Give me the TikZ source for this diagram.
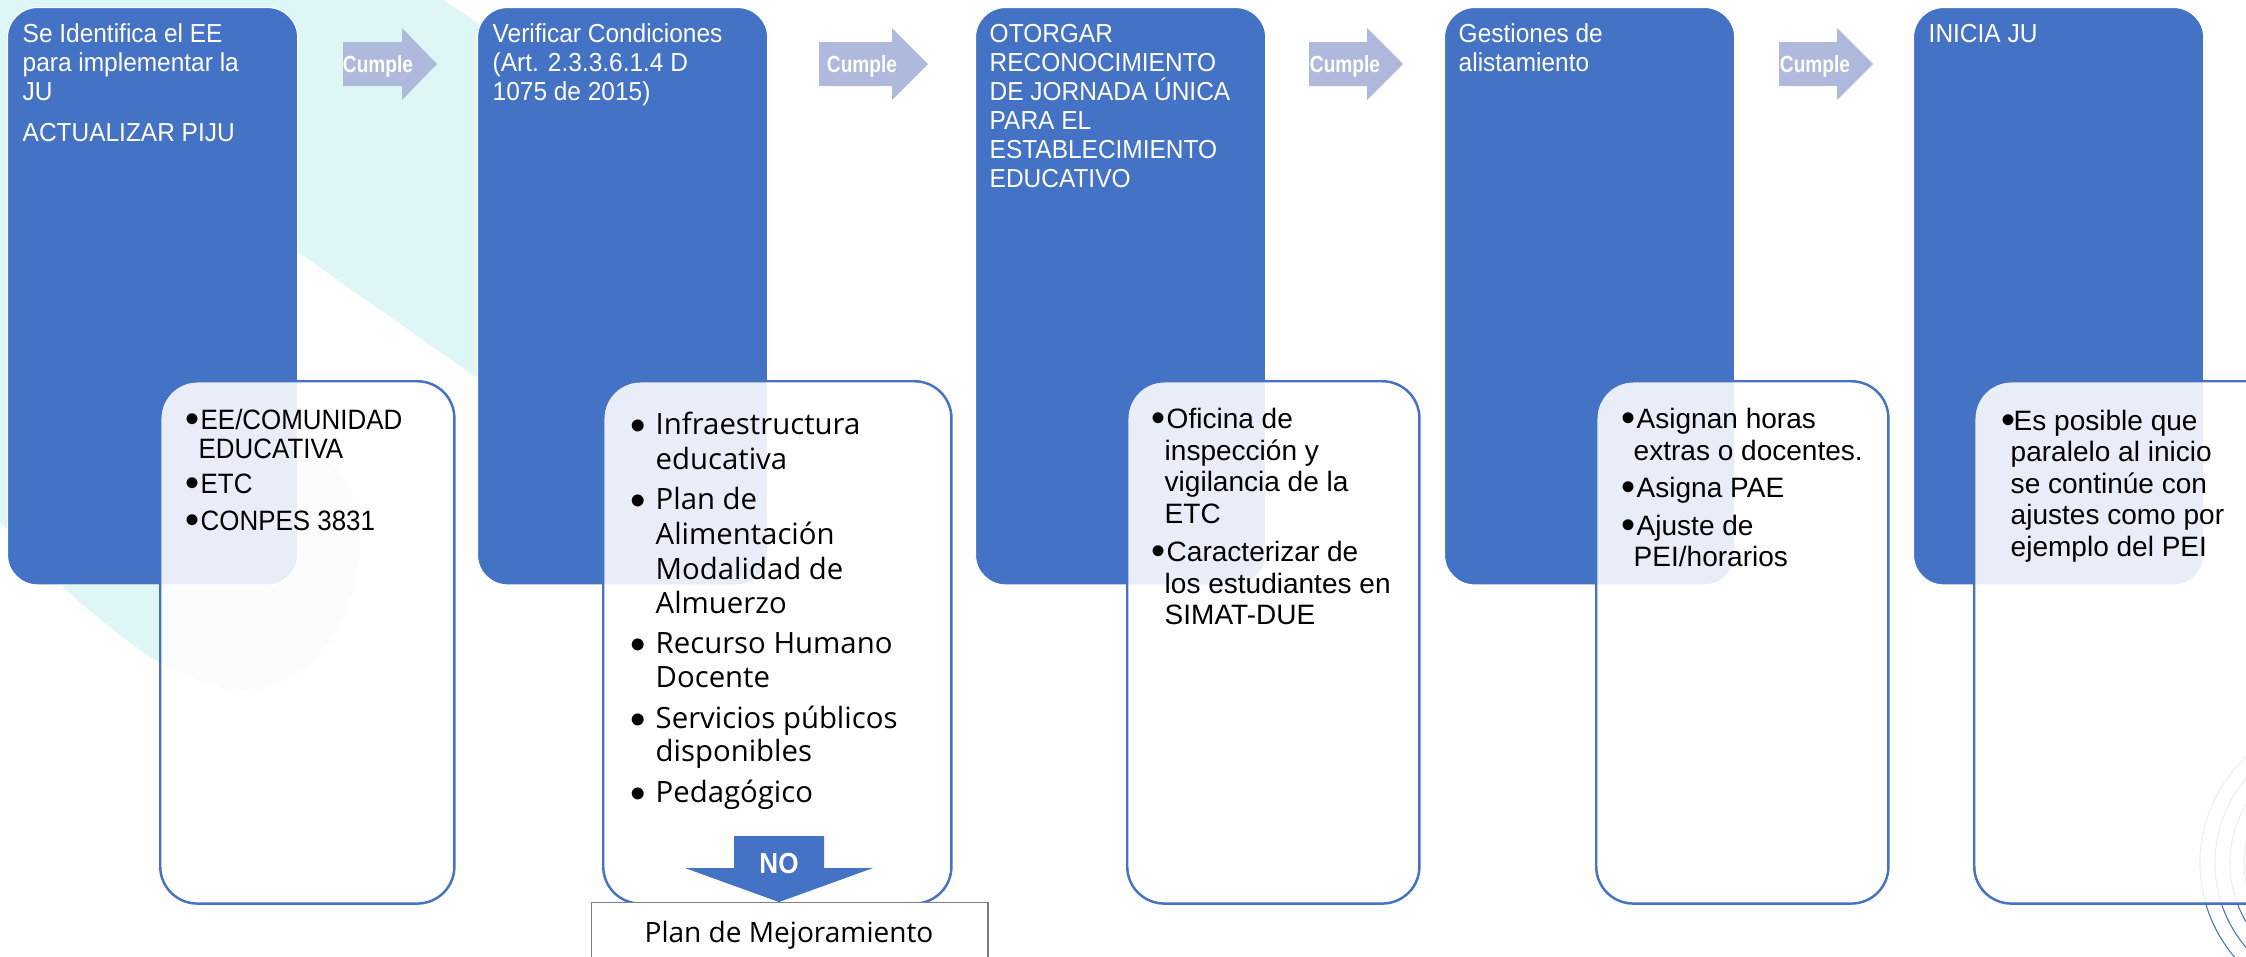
\documentclass[tikz,border=0pt]{standalone}
\usepackage{fontspec}
\setmainfont{Liberation Sans}
\newfontfamily\titlefont[FakeStretch=0.94]{Liberation Sans}
\newfontfamily\condfont[FakeStretch=0.925]{Liberation Sans}
\newfontfamily\cumplefont[FakeStretch=0.82]{Liberation Sans}
\newfontfamily\nofont[FakeStretch=0.9]{Liberation Sans}
\newfontfamily\osans{Open Sans}
\definecolor{jublue}{HTML}{4472C4}
\definecolor{arrowlight}{HTML}{AEB9DC}
\definecolor{cyanbg}{HTML}{DFF6F6}
\definecolor{plangray}{HTML}{7F7F7F}
\begin{document}
\begin{tikzpicture}[x=0.01cm,y=-0.01cm,
  bluebox/.style={fill=jublue, draw=white, line width=0.3pt, rounded corners=0.3cm, anchor=north west, minimum width=2.9cm, minimum height=5.77cm, inner sep=0pt},
  whitebox/.style={fill=white, fill opacity=0.88, draw=jublue, draw opacity=1, line width=0.7pt, rounded corners=0.37cm, anchor=north west, minimum height=5.22cm, inner sep=0pt},
  ttl/.style={anchor=base west, inner sep=0pt, text=white, font=\titlefont\fontsize{7.4}{8.5}\selectfont},
  lsta/.style={anchor=base west, inner sep=0pt, text=black, font=\condfont\fontsize{7.97}{9}\selectfont},
  lstb/.style={anchor=base west, inner sep=0pt, text=black, font=\osans\fontsize{8.34}{9.8}\selectfont},
  lstc/.style={anchor=base west, inner sep=0pt, text=black, font=\fontsize{7.97}{9}\selectfont},
  bul/.style={anchor=base west, inner sep=0pt, text=black, font=\fontsize{11.4}{12}\selectfont},
  bulb/.style={anchor=base west, inner sep=0pt, text=black, font=\fontsize{12.5}{13}\selectfont},
  cumple/.style={anchor=base, inner sep=0pt, text=white, font=\cumplefont\bfseries\fontsize{6.63}{7}\selectfont},
  cumplearrow/.style={fill=arrowlight},
  planbox/.style={draw=plangray, fill=white, line width=0.4pt, anchor=north west, minimum width=3.96cm, minimum height=0.8cm, inner sep=0pt}
]
\useasboundingbox (0,0) rectangle (2246,956);
\clip (0,0) rectangle (2246,956);
\fill[white] (0,0) rectangle (2246,956);

% background decoration
\fill[cyanbg] (0,0) -- (443,0) -- (500,38) -- (500,394) -- (298,252) -- (298,430)
  .. controls (345,465) and (365,505) .. (360,550)
  .. controls (352,640) and (300,690) .. (245,690)
  .. controls (180,690) and (110,630) .. (61,585) -- (0,522) -- cycle;
\foreach \r in {1.45,1.30,1.15,1.01}
  \draw[jublue, line width=0.3pt] (2345,863) circle[radius=\r cm];

% blue step boxes
\node[bluebox] (b1) at (7,7) {};
\node[bluebox] (b2) at (477,7) {};
\node[bluebox] (b3) at (975,7) {};
\node[bluebox] (b4) at (1444,7) {};
\node[bluebox] (b5) at (1913,7) {};

% detail boxes
\node[whitebox, minimum width=2.94cm] (w1) at (159,380) {};
\node[whitebox, minimum width=3.48cm] (w2) at (602,380) {};
\node[whitebox, minimum width=2.92cm] (w3) at (1126,380) {};
\node[whitebox, minimum width=2.92cm] (w4) at (1595,380) {};
\node[whitebox, minimum width=3.3cm] (w5) at (1973,380) {};

% Cumple arrows
\fill[cumplearrow] (343,42) -- (402,42) -- (402,28) -- (437,64) -- (402,100) -- (402,86) -- (343,86) -- cycle;
\fill[cumplearrow] (819,42) -- (892,42) -- (892,28) -- (928,64) -- (892,100) -- (892,86) -- (819,86) -- cycle;
\fill[cumplearrow] (1309,42) -- (1367,42) -- (1367,28) -- (1403,64) -- (1367,100) -- (1367,86) -- (1309,86) -- cycle;
\fill[cumplearrow] (1779,42) -- (1837,42) -- (1837,28) -- (1873,64) -- (1837,100) -- (1837,86) -- (1779,86) -- cycle;
\node[cumple] (c1) at (378,72) {Cumple};
\node[cumple] (c2) at (862,72) {Cumple};
\node[cumple] (c3) at (1345,72) {Cumple};
\node[cumple] (c4) at (1815,72) {Cumple};

% titles
\node[ttl] (t1a) at (22,42) {Se Identifica el EE};
\node[ttl] (t1b) at (22,71) {para implementar la};
\node[ttl] (t1c) at (22,100) {JU};
\node[ttl] (t1d) at (22,141) {ACTUALIZAR PIJU};
\node[ttl] (t2a) at (492,42) {Verificar Condiciones};
\node[ttl] (t2b) at (492,71) {(Art. 2.3.3.6.1.4 D};
\node[ttl] (t2c) at (492,100) {1075 de 2015)};
\node[ttl] (t3a) at (989,42) {OTORGAR};
\node[ttl] (t3b) at (989,71) {RECONOCIMIENTO};
\node[ttl] (t3c) at (989,100) {DE JORNADA ÚNICA};
\node[ttl] (t3d) at (989,129) {PARA EL};
\node[ttl] (t3e) at (989,158) {ESTABLECIMIENTO};
\node[ttl] (t3f) at (989,187) {EDUCATIVO};
\node[ttl] (t4a) at (1458,42) {Gestiones de};
\node[ttl] (t4b) at (1458,71) {alistamiento};
\node[ttl] (t5a) at (1928,42) {INICIA JU};

% list box 1
\node[bul] (p1a) at (185,432) {•};
\node[lsta] (l1a) at (200,429) {EE/COMUNIDAD};
\node[lsta] (l1b) at (198,458) {EDUCATIVA};
\node[bul] (p1b) at (185,496) {•};
\node[lsta] (l1c) at (200,493) {ETC};
\node[bul] (p1c) at (185,533) {•};
\node[lsta] (l1d) at (200,530) {CONPES 3831};

% list box 2
\node[bulb] (p2a) at (630,440) {•};
\node[lstb] (l2a) at (655,434) {Infraestructura};
\node[lstb] (l2b) at (655,469) {educativa};
\node[bulb] (p2b) at (630,515) {•};
\node[lstb] (l2c) at (655,509) {Plan de};
\node[lstb] (l2d) at (655,544) {Alimentación};
\node[lstb] (l2e) at (655,579) {Modalidad de};
\node[lstb] (l2f) at (655,613) {Almuerzo};
\node[bulb] (p2c) at (630,659) {•};
\node[lstb] (l2g) at (655,653) {Recurso Humano};
\node[lstb] (l2h) at (655,687) {Docente};
\node[bulb] (p2d) at (630,734) {•};
\node[lstb] (l2i) at (655,728) {Servicios públicos};
\node[lstb] (l2j) at (655,761) {disponibles};
\node[bulb] (p2e) at (630,808) {•};
\node[lstb] (l2k) at (655,802) {Pedagógico};

% list box 3
\node[bul] (p3a) at (1151,431) {•};
\node[lstc] (l3a) at (1166,428) {Oficina de};
\node[lstc] (l3b) at (1164,460) {inspección y};
\node[lstc] (l3c) at (1164,491) {vigilancia de la};
\node[lstc] (l3d) at (1164,523) {ETC};
\node[bul] (p3b) at (1151,564) {•};
\node[lstc] (l3e) at (1166,561) {Caracterizar de};
\node[lstc] (l3f) at (1164,593) {los estudiantes en};
\node[lstc] (l3g) at (1164,624) {SIMAT-DUE};

% list box 4
\node[bul] (p4a) at (1621,431) {•};
\node[lstc] (l4a) at (1636,428) {Asignan horas};
\node[lstc] (l4b) at (1633,460) {extras o docentes.};
\node[bul] (p4b) at (1621,500) {•};
\node[lstc] (l4c) at (1636,497) {Asigna PAE};
\node[bul] (p4c) at (1621,538) {•};
\node[lstc] (l4d) at (1636,535) {Ajuste de};
\node[lstc] (l4e) at (1633,566) {PEI/horarios};

% list box 5
\node[bul] (p5a) at (2001,433) {•};
\node[lstc] (l5a) at (2013,430) {Es posible que};
\node[lstc] (l5b) at (2010,461) {paralelo al inicio};
\node[lstc] (l5c) at (2010,493) {se continúe con};
\node[lstc] (l5d) at (2010,524) {ajustes como por};
\node[lstc] (l5e) at (2010,556) {ejemplo del PEI};

% NO branch
\node[planbox] (plan) at (591,902) {};
\node[anchor=base, inner sep=0pt, font=\osans\fontsize{7.97}{9}\selectfont] (plantxt) at (789,942) {Plan de Mejoramiento};
\fill[jublue] (734,836) -- (824,836) -- (824,868) -- (873,868) -- (779,902) -- (685,868) -- (734,868) -- cycle;
\node[anchor=base, inner sep=0pt, text=white, font=\nofont\bfseries\fontsize{8.25}{9}\selectfont] (notxt) at (779,873) {NO};
\end{tikzpicture}
\end{document}
